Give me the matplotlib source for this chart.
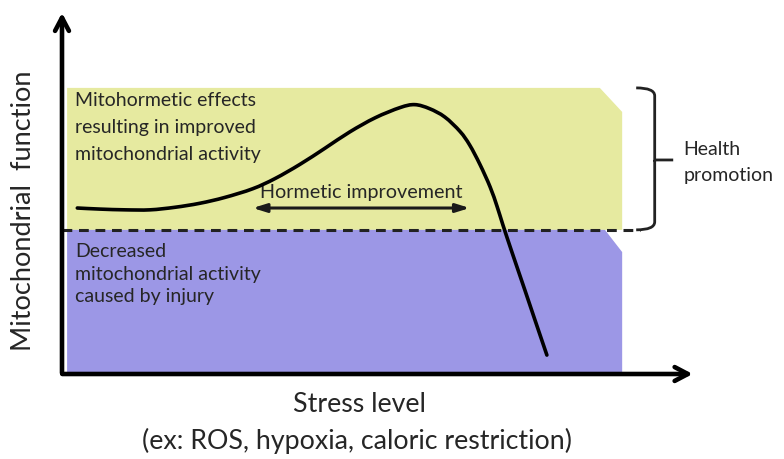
import numpy as np
import matplotlib
matplotlib.use("Agg")
import matplotlib.pyplot as plt
from matplotlib.patches import Polygon, PathPatch
from matplotlib.path import Path

plt.rcParams["font.family"] = ["Lato", "DejaVu Sans"]

# hormesis response curve (stress level vs mitochondrial function, arbitrary units 0-100)
stress = [2.4, 6.0, 9.9, 13.8, 17.7, 21.6, 25.5, 29.9, 33.4, 37.3, 41.2, 45.1, 49.1,
          53.0, 55.3, 57.6, 60.0, 62.4, 63.9, 65.5, 67.1, 68.2, 69.1, 70.5, 72.6, 74.1, 76.0]
function = [45.6, 45.3, 45.1, 45.1, 45.8, 46.9, 48.5, 50.9, 53.7, 57.6, 62.0, 66.5, 70.4,
            73.2, 74.0, 72.9, 70.6, 66.6, 62.9, 57.6, 51.4, 46.0, 41.0, 33.6, 22.8, 15.0, 5.2]

baseline = 39.6          # dashed threshold between improved / decreased activity
zone_top = 78.6
zone_right = 87.8
hormetic_range = (29.9, 63.9)

upper_text = "Mitohormetic effects\nresulting in improved\nmitochondrial activity"
lower_text = "Decreased\nmitochondrial activity\ncaused by injury"


def smooth_path(xs, ys):
    """Catmull-Rom through the points, drawn as cubic bezier segments."""
    pts = np.column_stack([xs, ys])
    verts = [pts[0]]
    codes = [Path.MOVETO]
    for i in range(len(pts) - 1):
        p0 = pts[max(i - 1, 0)]
        p1, p2 = pts[i], pts[i + 1]
        p3 = pts[min(i + 2, len(pts) - 1)]
        verts += [p1 + (p2 - p0) / 6, p2 - (p3 - p1) / 6, p2]
        codes += [Path.CURVE4] * 3
    return Path(verts, codes)


W, H = 784, 459
fig = plt.figure(figsize=(W / 100, H / 100), dpi=100)
ax = fig.add_axes([62 / W, (H - 374) / H, (700 - 62) / W, (374 - 10) / H])
ax.set_xlim(0, 100)
ax.set_ylim(0, 100)
ax.axis("off")

yellow = "#e6eaa0"
purple = "#9c97e6"
ink = "#262626"

# shaded zones (with clipped top-right corner)
ax.add_patch(Polygon([(0.8, baseline), (0.8, zone_top), (84.3, zone_top), (zone_right, 72.0),
                      (zone_right, baseline)], closed=True, fc=yellow, ec="none", zorder=1))
ax.add_patch(Polygon([(0.8, 0.5), (0.8, baseline), (85.1, baseline), (zone_right, 33.5),
                      (zone_right, 0.5)], closed=True, fc=purple, ec="none", zorder=1))

# dashed threshold
ax.plot([0, 90.6], [baseline, baseline], ls=(0, (3.2, 2.2)), color="#222222", lw=2.2, zorder=2,
        clip_on=False)

# response curve
ax.add_patch(PathPatch(smooth_path(stress, function), fc="none", ec="black", lw=2.6,
                       capstyle="round", zorder=4))

# axes arrows
ax.annotate("", xy=(0, 100), xytext=(0, -0.5), annotation_clip=False,
            arrowprops=dict(arrowstyle="->,head_length=0.95,head_width=0.5", lw=3.3, color="black"),
            zorder=5)
ax.annotate("", xy=(99.3, 0), xytext=(-0.4, 0), annotation_clip=False,
            arrowprops=dict(arrowstyle="->,head_length=0.95,head_width=0.5", lw=3.3, color="black"),
            zorder=5)

# hormetic improvement arrow
ax.annotate("", xy=(hormetic_range[0], 45.6), xytext=(hormetic_range[1], 45.6),
            arrowprops=dict(arrowstyle="<|-|>,head_length=0.8,head_width=0.25", lw=2.2,
                            color="#1a1a1a", shrinkA=0, shrinkB=0), zorder=3)
ax.text(sum(hormetic_range) / 2, 49.8, "Hormetic improvement", ha="center", va="center",
        fontsize=14.2, color=ink, zorder=3)

# bracket for health promotion
bx = 92.9
verts = [(90.0, zone_top), (bx, zone_top), (bx, zone_top - 2.2),
         (bx, 58.8 + 1.5), (bx, 58.8), (95.8, 58.8),
         (bx, 58.8), (bx, 58.8 - 1.5),
         (bx, baseline + 2.2), (bx, baseline), (90.0, baseline)]
codes = [Path.MOVETO, Path.CURVE3, Path.CURVE3,
         Path.LINETO, Path.LINETO, Path.LINETO,
         Path.MOVETO, Path.LINETO,
         Path.LINETO, Path.CURVE3, Path.CURVE3]
ax.add_patch(PathPatch(Path(verts, codes), fc="none", ec="#222222", lw=2.0, clip_on=False))
ax.text(97.4, 58.1, "Health\npromotion", ha="left", va="center", fontsize=14,
        color=ink, linespacing=1.6, clip_on=False)

# zone labels
ax.text(2.0, 77.6, upper_text, ha="left", va="top", fontsize=14, color=ink,
        linespacing=1.72, zorder=3)
ax.text(2.0, 36.0, lower_text, ha="left", va="top", fontsize=14, color=ink,
        linespacing=1.4, zorder=3)

# axis titles
fig.text(24 / W, 1 - 211 / H, "Mitochondrial  function", rotation=90, ha="center", va="center",
         fontsize=19.5, color=ink)
fig.text(359 / W, 1 - 405 / H, "Stress level", ha="center", va="center", fontsize=19.3,
         color=ink)
fig.text(357 / W, 1 - 441 / H, "(ex: ROS, hypoxia, caloric restriction)", ha="center",
         va="center", fontsize=19.3, color=ink)

fig.savefig("out.png", dpi=100, facecolor="white")
